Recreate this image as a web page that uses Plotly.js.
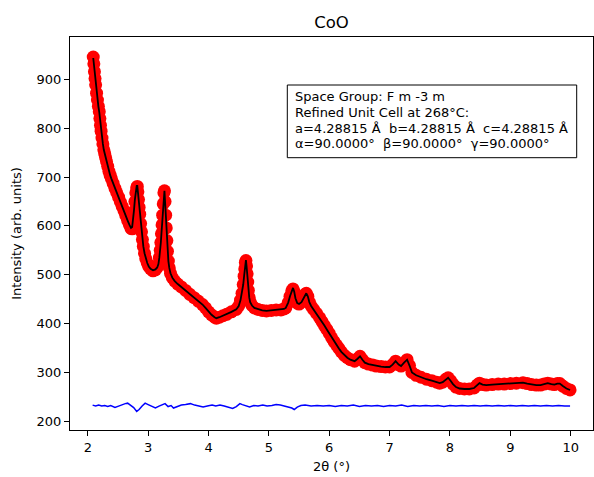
<!DOCTYPE html>
<html>
<head>
<meta charset="utf-8">
<script src="https://cdn.plot.ly/plotly-3.0.1.min.js"></script>
<style>
html,body{margin:0;padding:0;background:#fff;}
#chart{width:594px;height:477px;}
</style>
</head>
<body>
<div id="chart"></div>
<script>
// 2-theta grid of observed / calculated pattern
const obsX = [
2.090,2.100,2.110,2.120,2.130,2.145,2.160,2.175,2.190,2.200,2.210,2.220,2.235,2.250,2.265,2.280,2.295,2.310,2.330,2.350,
2.370,2.390,2.420,2.450,2.480,2.510,2.540,2.570,2.600,2.630,2.660,2.690,2.715,2.735,2.750,2.765,2.780,2.795,2.810,2.820,
2.830,2.840,2.850,2.860,2.875,2.890,2.905,2.920,2.940,2.960,2.985,3.010,3.040,3.080,3.120,3.150,3.170,3.185,3.200,3.210,
3.220,3.230,3.240,3.250,3.260,3.270,3.280,3.290,3.300,3.310,3.320,3.335,3.350,3.370,3.400,3.440,3.490,3.550,3.620,3.690,
3.760,3.830,3.900,3.950,4.000,4.050,4.100,4.130,4.180,4.240,4.300,4.380,4.460,4.500,4.530,4.555,4.575,4.590,4.600,4.610,
4.620,4.630,4.640,4.650,4.660,4.675,4.690,4.720,4.760,4.820,4.890,4.960,5.040,5.120,5.200,5.250,5.280,5.320,5.350,5.380,
5.400,5.420,5.440,5.470,5.500,5.540,5.570,5.600,5.620,5.645,5.670,5.700,5.740,5.790,5.840,5.880,5.920,5.960,6.000,6.040,
6.080,6.120,6.160,6.200,6.250,6.300,6.350,6.420,6.470,6.510,6.550,6.590,6.650,6.720,6.780,6.860,6.930,7.000,7.050,7.100,
7.150,7.190,7.240,7.290,7.330,7.370,7.440,7.520,7.610,7.700,7.780,7.830,7.880,7.930,7.970,8.010,8.050,8.100,8.160,8.240,
8.320,8.400,8.450,8.490,8.540,8.600,8.700,8.800,8.900,9.000,9.100,9.210,9.280,9.350,9.430,9.500,9.560,9.620,9.680,9.730,
9.780,9.820,9.870,9.930,9.990
];
// observed intensity (red circles)
const obsY = [
946,932,916,902,889,872,858,845,834,820,806,794,780,768,756,748,740,732,722,712,
704,697,687,677,668,659,649,640,631,621,611,602,595,594,612,630,650,668,678,681,
670,654,638,624,605,588,572,558,544,533,524,517,512,508,510,515,522,535,550,566,
584,602,622,645,668,672,650,622,596,570,548,528,514,503,494,487,481,475,468,460,
453,446,439,432,424,418,413,411,413,416,419,424,429,436,448,462,480,497,512,525,
529,518,502,485,468,453,444,437,432,429,427,426,427,428,428,430,432,443,456,467,
471,465,452,442,440,444,452,460,462,456,444,436,429,421,412,404,396,388,380,371,
363,356,349,342,335,330,326,323,328,333,326,320,317,315,313,312,311,311,316,323,
316,313,320,326,314,300,294,290,286,283,280,278,280,286,289,283,276,270,267,266,
266,268,274,278,275,274,275,276,276,277,278,279,277,275,274,274,276,278,276,275,
277,277,272,267,264
];
// calculated intensity (black line)
const calcY = [
944,931,916,902,889,872,858,845,833,820,806,794,780,768,756,748,740,732,722,712,
704,697,687,677,668,659,649,640,631,621,611,602,596,598,612,632,654,672,682,682,
670,654,638,623,605,588,572,558,544,533,524,517,512,509,511,515,522,535,550,566,
584,603,624,648,670,672,650,622,596,570,548,528,514,503,494,487,481,475,468,460,
453,446,439,432,424,418,413,411,413,416,419,424,429,436,448,462,480,498,514,527,
530,518,502,485,468,453,444,437,432,429,427,426,427,428,428,430,432,443,456,468,
473,465,452,442,440,444,452,460,462,456,444,436,429,421,412,404,396,388,380,371,
363,356,349,342,335,330,326,323,328,333,326,320,317,315,313,312,311,311,316,323,
316,313,320,326,314,300,294,290,286,283,280,278,280,286,289,283,276,270,267,266,
266,268,274,278,275,274,275,276,276,277,278,279,277,275,274,274,276,278,276,275,
277,277,272,267,264
];
// difference curve (blue)
const diffX = [
2.08,2.13,2.18,2.23,2.28,2.33,2.38,2.45,2.51,2.56,2.62,2.66,2.71,2.76,2.81,2.85,2.90,2.95,3.00,3.06,
3.12,3.18,3.23,3.28,3.33,3.38,3.42,3.48,3.55,3.62,3.70,3.77,3.84,3.91,3.98,4.06,4.12,4.19,4.26,4.33,
4.40,4.46,4.52,4.56,4.62,4.68,4.75,4.82,4.90,4.97,5.05,5.12,5.19,5.26,5.33,5.38,5.42,5.47,5.53,5.60,
5.70,5.80,5.90,6.00,6.10,6.20,6.30,6.40,6.50,6.60,6.70,6.80,6.90,7.00,7.10,7.20,7.30,7.40,7.50,7.60,
7.70,7.80,7.90,8.00,8.10,8.20,8.30,8.40,8.50,8.60,8.70,8.80,8.90,9.00,9.10,9.20,9.30,9.40,9.50,9.60,
9.70,9.80,9.90,9.99
];
const diffY = [
233,231,233,231,232,230,232,228,231,234,236,237,232,228,220,224,231,237,234,230,
227,231,233,236,230,232,227,230,233,234,236,233,231,229,231,233,231,233,231,229,
226,230,236,234,231,229,232,231,233,231,232,234,233,231,229,227,224,229,232,233,
231,232,231,232,230,232,231,233,230,232,231,232,230,232,231,233,230,232,231,232,
231,232,230,232,231,232,231,232,231,232,231,232,231,232,231,232,231,232,231,232,
231,232,231,231
];
const xTicks = [2,3,4,5,6,7,8,9,10];
const yTicks = [200,300,400,500,600,700,800,900];
const infoLines = [
  "Space Group: F m -3 m",
  "Refined Unit Cell at 268°C:",
  "a=4.28815 Å\u00a0\u00a0b=4.28815 Å\u00a0\u00a0c=4.28815 Å",
  "α=90.0000°\u00a0\u00a0β=90.0000°\u00a0\u00a0γ=90.0000°"
];

const FONT = "DejaVu Sans, Liberation Sans, sans-serif";
const L = 70, R = 1, T = 37, B = 47, W = 594, H = 477;
const PW = W - L - R, PH = H - T - B;
const px = v => (v - L) / PW;
const py = v => (H - B - v) / PH;

const traces = [
  {x: obsX, y: obsY, type: 'scatter', mode: 'markers', name: 'Observed',
   marker: {color: '#ff0000', size: 13, line: {width: 0}}},
  {x: obsX, y: calcY, type: 'scatter', mode: 'lines', name: 'Calculated',
   line: {color: '#000000', width: 1.8}},
  {x: diffX, y: diffY, type: 'scatter', mode: 'lines', name: 'Difference',
   line: {color: '#0000ff', width: 1.5}}
];

const lineYs = [96.7, 112.3, 128.0, 143.6];
const annotations = infoLines.map((t, i) => ({
  text: t, xref: 'paper', yref: 'paper', x: px(293), y: py(lineYs[i]),
  xanchor: 'left', yanchor: 'middle', showarrow: false, align: 'left',
  font: {family: FONT, size: 13, color: '#000'}
}));

const layout = {
  width: W, height: H,
  margin: {l: L, r: R, t: T, b: B, pad: 0},
  paper_bgcolor: '#fff', plot_bgcolor: '#fff',
  showlegend: false,
  font: {family: FONT, size: 13, color: '#000'},
  title: {text: 'CoO', font: {family: FONT, size: 16.5, color: '#000'},
          x: 0.5 * (L + W - R) / W, xanchor: 'center', xref: 'container',
          y: 1 - 22 / H, yanchor: 'middle', yref: 'container'},
  xaxis: {range: [1.705, 10.37], tickvals: xTicks, ticktext: xTicks.map(String),
          ticks: 'outside', ticklen: 5, tickwidth: 1, tickcolor: '#000',
          showline: true, linecolor: '#000', linewidth: 1, mirror: true,
          showgrid: false, zeroline: false,
          tickfont: {family: FONT, size: 13, color: '#000'},
          title: {text: '2θ (°)', font: {family: FONT, size: 13, color: '#000'}, standoff: 8}},
  yaxis: {range: [182, 987], tickvals: yTicks, ticktext: yTicks.map(String),
          ticks: 'outside', ticklen: 5, tickwidth: 1, tickcolor: '#000',
          showline: true, linecolor: '#000', linewidth: 1, mirror: true,
          showgrid: false, zeroline: false,
          tickfont: {family: FONT, size: 13, color: '#000'},
          title: {text: 'Intensity (arb. units)', font: {family: FONT, size: 13, color: '#000'}, standoff: 12}},
  shapes: [{type: 'rect', xref: 'paper', yref: 'paper',
            x0: px(287.3), x1: px(576.7), y0: py(157.7), y1: py(85),
            line: {color: '#000', width: 1}, fillcolor: '#fff', layer: 'above'}],
  annotations: annotations
};

Plotly.newPlot('chart', traces, layout, {displayModeBar: false, staticPlot: true});
</script>
</body>
</html>
